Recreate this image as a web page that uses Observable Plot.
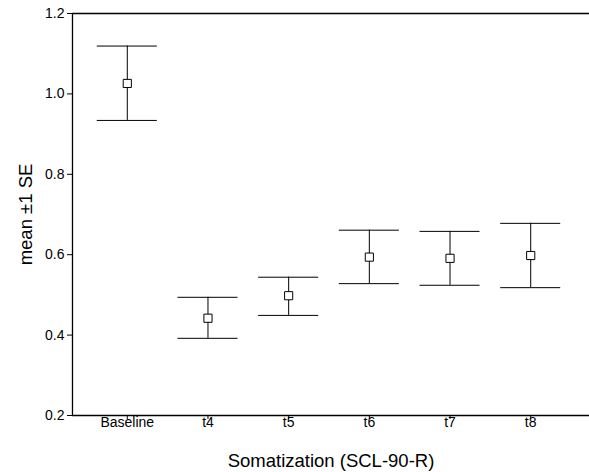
<!DOCTYPE html>
<html><head><meta charset="utf-8">
<script src="https://cdn.jsdelivr.net/npm/d3@7"></script>
<script src="https://cdn.jsdelivr.net/npm/@observablehq/plot@0.6"></script>
<style>
body{margin:0;background:#fff;overflow:hidden;}
svg{overflow:hidden !important;}
g[aria-label="y-axis tick label"] text, g[aria-label="x-axis tick label"] text{font-size:14px;}
g[aria-label="y-axis label"] text, g[aria-label="x-axis label"] text{font-size:18.5px;}
</style>
</head><body><div id="chart"></div>
<script>
const categories = ["Baseline","t4","t5","t6","t7","t8"];
const means = [1.026,0.442,0.498,0.594,0.591,0.598];
const upper = [1.119,0.494,0.544,0.661,0.658,0.678];
const lower = [0.934,0.392,0.449,0.528,0.524,0.518];
const yTicks = [0.2,0.4,0.6,0.8,1.0,1.2];
const data = categories.map((c,i)=>({cat:c, mean:means[i], hi:upper[i], lo:lower[i]}));

const chart = Plot.plot({
  width:589, height:472, marginLeft:72, marginRight:0, marginTop:13, marginBottom:57,
  style:{fontFamily:"'Liberation Sans', Arial, sans-serif", fontSize:"14px", color:"#000", background:"#fff", overflow:"hidden"},
  x:{type:"band", domain:categories, range:[72,585], paddingInner:0.256, paddingOuter:0.307, round:false},
  y:{domain:[0.2,1.2]},
  marks:[
    Plot.ruleY([0.2, 1.2], {stroke:"#000", strokeWidth:1.3}),
    Plot.ruleX([categories[0]], {stroke:"#000", strokeWidth:1.3, y1:0.2, y2:1.2, dx:-54.8}),
    Plot.axisY(yTicks, {tickSize:5, tickPadding:3, tickFormat:d3.format(".1f"), label:"mean ±1 SE", labelAnchor:"center", labelOffset:54, labelArrow:"none"}),
    Plot.axisX({tickSize:4, tickPadding:-2, label:"Somatization (SCL-90-R)", labelAnchor:"center", labelOffset:51}),
    Plot.ruleX(data, {x:"cat", y1:"lo", y2:"hi", stroke:"#000"}),
    Plot.tickY(data, {x:"cat", y:"hi", stroke:"#000"}),
    Plot.tickY(data, {x:"cat", y:"lo", stroke:"#000"}),
    Plot.dot(data, {x:"cat", y:"mean", symbol:"square", r:4.6, stroke:"#000", fill:"#fff", strokeWidth:1})
  ]
});
document.getElementById("chart").appendChild(chart);
</script>
</body></html>
